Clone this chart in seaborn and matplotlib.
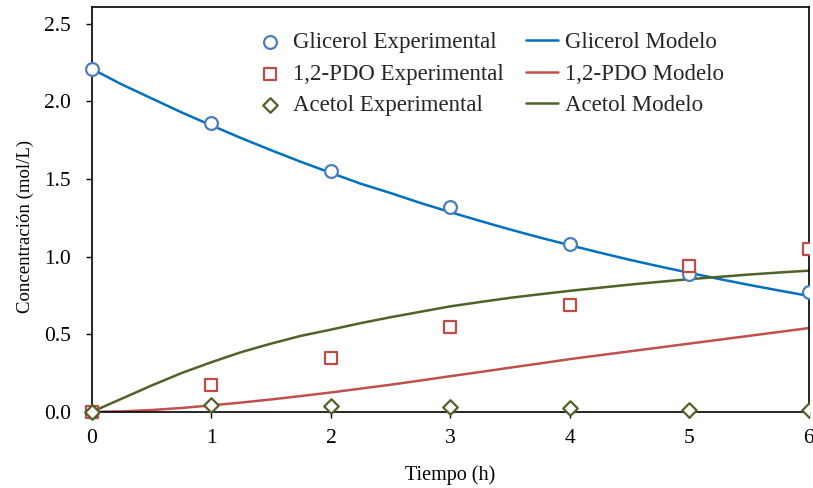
import numpy as np
import pandas as pd
import matplotlib
matplotlib.use("Agg")
import matplotlib.pyplot as plt
from matplotlib.transforms import Bbox, TransformedBbox
import seaborn as sns

# === Experimental data ===
t_exp = [0, 1, 2, 3, 4, 5, 6]
glicerol_exp = [2.21, 1.86, 1.55, 1.32, 1.08, 0.89, 0.77]
pdo_exp = [0.0, 0.17, 0.35, 0.545, 0.69, 0.94, 1.05]
acetol_exp = [0.0, 0.045, 0.04, 0.03, 0.025, 0.015, 0.015]

# === Model curves ===
t_mod = [0, 0.25, 0.5, 0.75, 1, 1.25, 1.5, 1.75, 2, 2.25, 2.5, 2.75, 3,
         3.25, 3.5, 3.75, 4, 4.25, 4.5, 4.75, 5, 5.25, 5.5, 5.75, 6]
glicerol_mod = [2.21, 2.11, 2.02, 1.93, 1.846, 1.764, 1.686, 1.611, 1.54, 1.47, 1.41, 1.346, 1.287,
                1.23, 1.175, 1.123, 1.074, 1.026, 0.98, 0.937, 0.896, 0.856, 0.818, 0.782, 0.747]
pdo_mod = [0.0, 0.003, 0.012, 0.025, 0.042, 0.06, 0.08, 0.102, 0.125, 0.15, 0.175, 0.202, 0.23,
           0.257, 0.285, 0.312, 0.34, 0.365, 0.39, 0.415, 0.44, 0.465, 0.49, 0.515, 0.54]
acetol_mod = [0.0, 0.085, 0.17, 0.25, 0.32, 0.385, 0.44, 0.49, 0.53, 0.572, 0.61, 0.645, 0.68,
              0.708, 0.735, 0.758, 0.78, 0.80, 0.82, 0.838, 0.855, 0.87, 0.885, 0.898, 0.91]

sns.set_theme(style="white")
plt.rcParams["font.family"] = ["Liberation Serif", "DejaVu Serif"]
plt.rcParams["font.size"] = 14

fig = plt.figure(figsize=(8.13, 4.88), dpi=100)
ax = fig.add_axes([0.113, 0.156, 0.882, 0.83])

sns.scatterplot(x=t_exp, y=glicerol_exp, marker="o", s=85, facecolor="white",
                edgecolor="#4A7EBB", linewidth=1.6, label="Glicerol Experimental", ax=ax, zorder=4)
sns.scatterplot(x=t_exp, y=pdo_exp, marker="s", s=75, facecolor="white",
                edgecolor="#BE4B48", linewidth=1.6, label="1,2-PDO Experimental", ax=ax, zorder=4)
sns.scatterplot(x=t_exp, y=acetol_exp, marker="D", s=55, facecolor="white",
                edgecolor="#4F6228", linewidth=1.6, label="Acetol Experimental", ax=ax, zorder=4)

sns.lineplot(x=t_mod, y=glicerol_mod, color="#0070C0", linewidth=1.8, label="Glicerol Modelo", ax=ax)
sns.lineplot(x=t_mod, y=pdo_mod, color="#C0504D", linewidth=1.8, label="1,2-PDO Modelo", ax=ax)
sns.lineplot(x=t_mod, y=acetol_mod, color="#4F6228", linewidth=1.8, label="Acetol Modelo", ax=ax)

ax.set_xlim(0, 6)
ax.set_ylim(0, 2.61)

# markers clipped only on the right side, as in the original
clip = TransformedBbox(Bbox([[-0.5, -0.5], [6, 3]]), ax.transData)
for coll in ax.collections:
    coll.set_clip_box(clip)

ax.set_xticks(range(0, 7))
ax.set_yticks([0, 0.5, 1.0, 1.5, 2.0, 2.5])
ax.set_yticklabels(["0.0", "0.5", "1.0", "1.5", "2.0", "2.5"])
ax.tick_params(axis="both", direction="out", length=4, width=1, color="black", labelsize=15.5,
               labelcolor="black")
ax.tick_params(axis="y", pad=11, left=True)
ax.tick_params(axis="x", pad=8, bottom=True)
for sp in ax.spines.values():
    sp.set_color("black")
    sp.set_linewidth(1.2)

ax.set_xlabel("Tiempo (h)", fontsize=14.5, labelpad=13, color="black")
ax.set_ylabel("Concentración (mol/L)", fontsize=13.5, color="black")
ax.yaxis.set_label_coords(-0.081, 0.459)

handles, labels = ax.get_legend_handles_labels()
ax.legend(handles, labels, ncol=2, frameon=False, loc="upper left",
          bbox_to_anchor=(0.312, 0.934), bbox_transform=fig.transFigure,
          fontsize=16.5, handlelength=1.4, handletextpad=0.3, columnspacing=1.0,
          labelspacing=0.45, borderaxespad=0, borderpad=0)

fig.savefig("out.png", dpi=100)
